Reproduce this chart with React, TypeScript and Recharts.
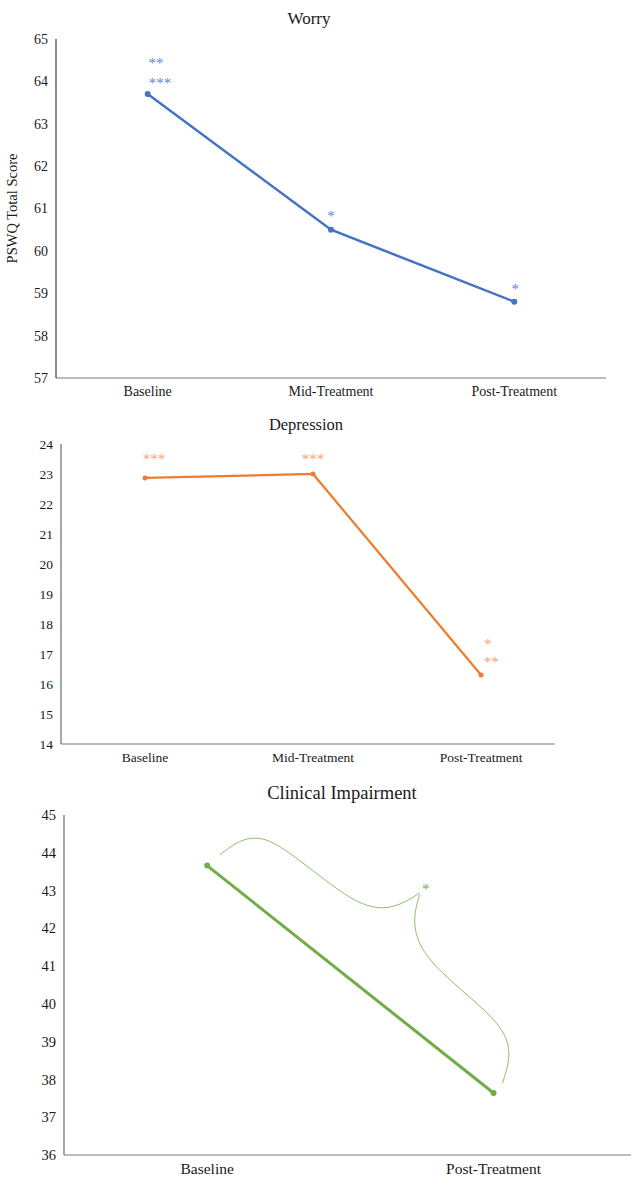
import React from 'react';
import { LineChart, Line, XAxis, YAxis, ReferenceDot } from 'recharts';

const FONT = '"Liberation Serif", "Times New Roman", serif';

// ---------- Worry ----------
const worryCategories = ['Baseline', 'Mid-Treatment', 'Post-Treatment'];
const worryScores = [63.7, 60.5, 58.8];
const worryTicks = [57, 58, 59, 60, 61, 62, 63, 64, 65];
const worryStarText = ['**', '***', '*', '*'];
const worryStarX = [0.045, 0.067, 1.0, 2.005];
const worryStarY = [64.5, 64.01, 60.89, 59.15];

// ---------- Depression ----------
const depressionCategories = ['Baseline', 'Mid-Treatment', 'Post-Treatment'];
const depressionScores = [22.87, 23.0, 16.3];
const depressionTicks = [14, 15, 16, 17, 18, 19, 20, 21, 22, 23, 24];
const depressionStarText = ['***', '***', '*', '**'];
const depressionStarX = [0.054, 1.0, 2.04, 2.06];
const depressionStarY = [23.6, 23.6, 17.43, 16.83];

// ---------- Clinical Impairment ----------
const clinicalCategories = ['Baseline', 'Post-Treatment'];
const clinicalScores = [43.66, 37.64];
const clinicalTicks = [36, 37, 38, 39, 40, 41, 42, 43, 44, 45];
const clinicalStarText = ['*'];
const clinicalStarX = [0.763];
const clinicalStarY = [43.1];
const braceUpperX = [0.045, 0.115, 0.178, 0.254, 0.429, 0.533, 0.62, 0.69, 0.742];
const braceUpperY = [43.95, 44.35, 44.43, 44.22, 43.16, 42.63, 42.49, 42.68, 42.94];
const braceLowerX = [0.742, 0.718, 0.735, 0.812, 0.951, 1.038, 1.063, 1.031];
const braceLowerY = [42.89, 42.28, 41.56, 40.85, 39.97, 39.31, 38.65, 37.9];

const toSeries = (xs: number[], ys: number[]) => xs.map((x, i) => ({ x, v: ys[i] }));
const indexSeries = (vals: number[]) => vals.map((v, i) => ({ x: i, v }));

const makeStar = (text: string, color: string, size: number) => (p: any) => (
  <text
    x={p.cx}
    y={p.cy + size * 0.5}
    textAnchor="middle"
    fontFamily={FONT}
    fontSize={size}
    fill={color}
  >
    {text}
  </text>
);

const WorryYLabel = (props: any) => {
  const vb = props.viewBox || { x: 0, y: 0, width: 0, height: 0 };
  const cx = vb.x + 12;
  const cy = vb.y + vb.height / 2;
  return (
    <text
      x={cx}
      y={cy}
      transform={`rotate(-90, ${cx}, ${cy})`}
      textAnchor="middle"
      dominantBaseline="central"
      fontFamily={FONT}
      fontSize={14.5}
      fill="#1a1a1a"
    >
      PSWQ Total Score
    </text>
  );
};

const Title = ({ text, cx, cy, size }: { text: string; cx: number; cy: number; size: number }) => (
  <div
    style={{
      position: 'absolute',
      left: cx - 200,
      width: 400,
      top: cy - size / 2 - 1,
      lineHeight: `${size + 2}px`,
      textAlign: 'center',
      fontFamily: FONT,
      fontSize: size,
      color: '#1a1a1a',
      zIndex: 2,
    }}
  >
    {text}
  </div>
);

const tickStyle = (size: number) => ({ fontFamily: FONT, fontSize: size, fill: '#1a1a1a' });

export default function App() {
  const worryData = indexSeries(worryScores);
  const depData = indexSeries(depressionScores);
  const clinData = indexSeries(clinicalScores);

  return (
    <div style={{ position: 'absolute', left: 0, top: 0, width: 631, height: 1178, background: '#fff', overflow: 'hidden' }}>
      {/* Worry */}
      <Title text="Worry" cx={309} cy={18} size={17} />
      <div style={{ position: 'absolute', left: 0, top: 0 }}>
        <LineChart width={631} height={410} data={worryData} margin={{ top: 39, right: 25, bottom: 7, left: 0 }}>
          <XAxis
            type="number"
            dataKey="x"
            domain={[-0.5, 2.5]}
            ticks={[0, 1, 2]}
            tickFormatter={(i: number) => worryCategories[i]}
            height={25}
            tickLine={false}
            axisLine={{ stroke: '#7a7a7a', strokeWidth: 1.2 }}
            tick={tickStyle(14)}
            interval={0}
          />
          <YAxis
            type="number"
            domain={[57, 65]}
            ticks={worryTicks}
            width={56}
            tickLine={false}
            axisLine={{ stroke: '#3a3a3a', strokeWidth: 1.2 }}
            tick={tickStyle(14)}
            interval={0}
            label={<WorryYLabel />}
          />
          <Line
            dataKey="v"
            stroke="#4472C4"
            strokeWidth={2.5}
            dot={{ r: 3, fill: '#4472C4', stroke: '#4472C4', strokeWidth: 0 }}
            isAnimationActive={false}
          />
          {worryStarText.map((t, i) => (
            <ReferenceDot key={i} x={worryStarX[i]} y={worryStarY[i]} r={0} shape={makeStar(t, '#5B87D3', 15)} />
          ))}
        </LineChart>
      </div>

      {/* Depression */}
      <Title text="Depression" cx={306} cy={425} size={16.5} />
      <div style={{ position: 'absolute', left: 0, top: 400 }}>
        <LineChart width={631} height={370} data={depData} margin={{ top: 44, right: 76, bottom: 6, left: 0 }}>
          <XAxis
            type="number"
            dataKey="x"
            domain={[-0.5, 2.44]}
            ticks={[0, 1, 2]}
            tickFormatter={(i: number) => depressionCategories[i]}
            height={20}
            tickLine={false}
            axisLine={{ stroke: '#7a7a7a', strokeWidth: 1.2 }}
            tick={tickStyle(13.5)}
            interval={0}
          />
          <YAxis
            type="number"
            domain={[14, 24]}
            ticks={depressionTicks}
            width={61}
            tickLine={false}
            axisLine={{ stroke: '#6a6a6a', strokeWidth: 1.2 }}
            tick={tickStyle(13.5)}
            interval={0}
          />
          <Line
            dataKey="v"
            stroke="#ED7D31"
            strokeWidth={2.25}
            dot={{ r: 2.5, fill: '#ED7D31', stroke: '#ED7D31', strokeWidth: 0 }}
            isAnimationActive={false}
          />
          {depressionStarText.map((t, i) => (
            <ReferenceDot key={i} x={depressionStarX[i]} y={depressionStarY[i]} r={0} shape={makeStar(t, '#F0A274', 15)} />
          ))}
        </LineChart>
      </div>

      {/* Clinical Impairment */}
      <Title text="Clinical Impairment" cx={342} cy={793} size={18.5} />
      <div style={{ position: 'absolute', left: 0, top: 780 }}>
        <LineChart width={631} height={398} data={clinData} margin={{ top: 35, right: 0, bottom: 3, left: 0 }}>
          <XAxis
            type="number"
            dataKey="x"
            domain={[-0.5, 1.48]}
            ticks={[0, 1]}
            tickFormatter={(i: number) => clinicalCategories[i]}
            height={20}
            tickLine={false}
            axisLine={{ stroke: '#7a7a7a', strokeWidth: 1.2 }}
            tick={tickStyle(15.5)}
            interval={0}
          />
          <YAxis
            type="number"
            domain={[36, 45]}
            ticks={clinicalTicks}
            width={64}
            tickLine={false}
            axisLine={{ stroke: '#6a6a6a', strokeWidth: 1.2 }}
            tick={tickStyle(14.5)}
            interval={0}
          />
          <Line
            data={toSeries(braceUpperX, braceUpperY)}
            dataKey="v"
            type="basis"
            stroke="#8CC06A"
            strokeWidth={1}
            dot={false}
            isAnimationActive={false}
          />
          <Line
            data={toSeries(braceLowerX, braceLowerY)}
            dataKey="v"
            type="basis"
            stroke="#8CC06A"
            strokeWidth={1}
            dot={false}
            isAnimationActive={false}
          />
          <Line
            data={clinData}
            dataKey="v"
            stroke="#70AD47"
            strokeWidth={3}
            dot={{ r: 3, fill: '#70AD47', stroke: '#70AD47', strokeWidth: 0 }}
            isAnimationActive={false}
          />
          {clinicalStarText.map((t, i) => (
            <ReferenceDot key={i} x={clinicalStarX[i]} y={clinicalStarY[i]} r={0} shape={makeStar(t, '#70AD47', 15)} />
          ))}
        </LineChart>
      </div>
    </div>
  );
}
